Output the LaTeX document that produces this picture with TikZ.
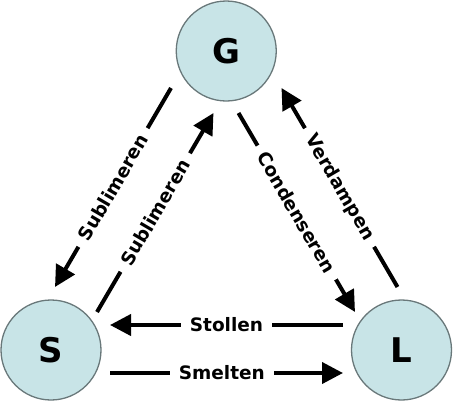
\documentclass[tikz,border=0pt]{standalone}
\usepackage{fontspec}
\setmainfont{DejaVu Sans}
\usetikzlibrary{arrows.meta}
\definecolor{phasefill}{RGB}{200,228,231}
\definecolor{phaseline}{RGB}{105,120,122}
\tikzset{
  phase/.style={circle, draw=phaseline, line width=1.3pt, fill=phasefill,
    minimum size=100pt, inner sep=0pt, font=\fontsize{34}{36}\selectfont\bfseries},
  arr/.style={line width=4pt, -{Triangle[length=21pt,width=21pt]}},
  lbl/.style={fill=white, sloped, inner xsep=9pt, inner ysep=2pt,
    font=\fontsize{18.5}{20}\selectfont\bfseries}
}
\begin{document}
\begin{tikzpicture}[x=1pt,y=-1pt]
\useasboundingbox (0,0) rectangle (453,402);
\node[phase] (G) at (226.25,51) {G};
\node[phase] (S) at (51,350) {S};
\node[phase] (L) at (401.5,350) {L};
% connector end points
\coordinate (sa1) at (171,88);
\coordinate (sa2) at (55,287);
\coordinate (sb1) at (97,312);
\coordinate (sb2) at (213.5,113);
\coordinate (c1) at (238.5,113);
\coordinate (c2) at (355,312);
\coordinate (v1) at (397.5,287);
\coordinate (v2) at (281.5,88);
\coordinate (st1) at (343,325);
\coordinate (st2) at (110,325);
\coordinate (sm1) at (110,373);
\coordinate (sm2) at (343,373);
\draw[arr] (sa1) -- node[lbl] {Sublimeren} (sa2);
\draw[arr] (sb1) -- node[lbl] {Sublimeren} (sb2);
\draw[arr] (c1) -- node[lbl] {Condenseren} (c2);
\draw[arr] (v1) -- node[lbl] {Verdampen} (v2);
\draw[arr] (st1) -- node[lbl] {Stollen} (st2);
\draw[arr] (sm1) -- node[lbl, pos=0.48] {Smelten} (sm2);
\end{tikzpicture}
\end{document}
